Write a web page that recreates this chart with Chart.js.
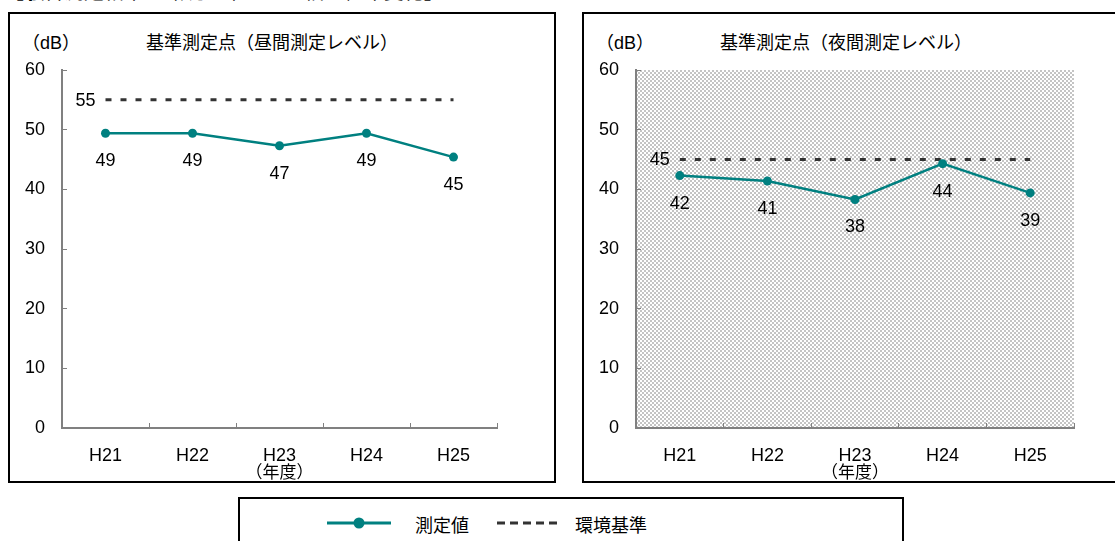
<!DOCTYPE html>
<html>
<head>
<meta charset="utf-8">
<script src="https://cdn.jsdelivr.net/npm/chart.js@4.4.1/dist/chart.umd.min.js"></script>
<style>
  body { margin: 0; width: 1115px; height: 541px; overflow: hidden; background: #fff;
         font-family: "Liberation Sans", "Noto Sans CJK JP", sans-serif; position: relative; }
  .box { position: absolute; border: 2px solid #000; box-sizing: border-box; }
  .txt { position: absolute; white-space: nowrap; color: #000; }
  canvas { position: absolute; }
  .jp { font-family: "Liberation Sans", "Noto Sans CJK JP", sans-serif; }
</style>
</head>
<body>
<div class="txt jp" style="left:4px; top:-24px; font-size:20px;">【騒音測定結果の環境基準との比較と経年変化】</div>

<div class="box" style="left:8px; top:12px; width:548px; height:471px;"></div>
<div class="box" style="left:582px; top:12px; width:545px; height:471px;"></div>

<div class="txt jp" style="left:22px; top:28px; font-size:18px;">（dB）</div>
<div class="txt jp" style="left:146px; top:28px; font-size:18px;">基準測定点（昼間測定レベル）</div>
<div class="txt jp" style="left:596px; top:28px; font-size:18px;">（dB）</div>
<div class="txt jp" style="left:720px; top:28px; font-size:18px;">基準測定点（夜間測定レベル）</div>

<canvas id="dayChart" width="540" height="470" style="left:10px; top:14px; width:540px; height:470px;"></canvas>
<canvas id="nightChart" width="520" height="470" style="left:584px; top:14px; width:520px; height:470px;"></canvas>

<div class="box" style="left:238px; top:497px; width:666px; height:60px;"></div>
<svg style="position:absolute; left:326px; top:515px;" width="66" height="16">
  <line x1="1" y1="8" x2="65" y2="8" stroke="#008080" stroke-width="3"/>
  <circle cx="33" cy="8" r="5.5" fill="#008080"/>
</svg>
<div class="txt jp" style="left:415px; top:511px; font-size:18px;">測定値</div>
<svg style="position:absolute; left:496px; top:515px;" width="66" height="16">
  <line x1="1" y1="8" x2="65" y2="8" stroke="#333" stroke-width="3" stroke-dasharray="8,5"/>
</svg>
<div class="txt jp" style="left:575px; top:511px; font-size:18px;">環境基準</div>

<script>
// 年度
const years = ['H21', 'H22', 'H23', 'H24', 'H25'];

// 昼間
const dayMeasured = [49.4, 49.4, 47.3, 49.4, 45.4];
const dayStandard = [55, 55, 55, 55, 55];

// 夜間
const nightMeasured = [42.3, 41.4, 38.3, 44.3, 39.4];
const nightStandard = [45, 45, 45, 45, 45];

const yTicks = [0, 10, 20, 30, 40, 50, 60];

const numFont = { family: '"Liberation Sans", "Noto Sans CJK JP", sans-serif', size: 18 };

// 市松模様の背景
function makeChecker() {
  const c = document.createElement('canvas');
  c.width = 4; c.height = 4;
  const g = c.getContext('2d');
  g.fillStyle = '#ffffff';
  g.fillRect(0, 0, 4, 4);
  g.fillStyle = '#c4c4c4';
  g.fillRect(0, 0, 2, 2);
  g.fillRect(2, 2, 2, 2);
  return c;
}

const bgPlugin = {
  id: 'checkerBg',
  beforeDraw(chart, args, opts) {
    if (!opts.on) return;
    const { ctx, chartArea } = chart;
    ctx.save();
    ctx.fillStyle = ctx.createPattern(makeChecker(), 'repeat');
    ctx.fillRect(chartArea.left, chartArea.top, chartArea.right - chartArea.left, chartArea.bottom - chartArea.top);
    ctx.restore();
  }
};

const labelPlugin = {
  id: 'valueLabels',
  afterDatasetsDraw(chart) {
    const ctx = chart.ctx;
    ctx.save();
    ctx.font = '18px "Liberation Sans", sans-serif';
    ctx.fillStyle = '#000';
    ctx.textBaseline = 'middle';
    // 測定値
    const m = chart.getDatasetMeta(0);
    ctx.textAlign = 'center';
    m.data.forEach((pt, i) => {
      ctx.fillText(Math.round(chart.data.datasets[0].data[i]), pt.x, pt.y + 28);
    });
    // 環境基準
    const s = chart.getDatasetMeta(1);
    ctx.textAlign = 'right';
    ctx.fillText(chart.data.datasets[1].data[0], s.data[0].x - 10, s.data[0].y + 1);
    ctx.restore();
  }
};

function makeChart(id, measured, standard, padRight, checker) {
  const ctx = document.getElementById(id).getContext('2d');
  return new Chart(ctx, {
    type: 'line',
    data: {
      labels: years,
      datasets: [{
        label: '測定値',
        data: measured,
        borderColor: '#008080',
        backgroundColor: '#008080',
        borderWidth: 2.5,
        pointRadius: 4.5,
        pointBorderWidth: 0,
        tension: 0
      }, {
        label: '環境基準',
        data: standard,
        borderColor: '#333333',
        borderWidth: 3,
        borderDash: [6, 9],
        pointRadius: 0,
        tension: 0
      }]
    },
    options: {
      responsive: false,
      animation: false,
      layout: { padding: { top: 56, right: padRight, left: 0, bottom: 0 } },
      plugins: {
        legend: { display: false },
        title: { display: false },
        tooltip: { enabled: false },
        checkerBg: { on: checker }
      },
      scales: {
        x: {
          offset: true,
          grid: { offset: true, drawOnChartArea: false, drawTicks: true, tickLength: -5, color: '#808080', lineWidth: 1 },
          border: { color: '#808080', width: 2 },
          ticks: { color: '#000', font: numFont, padding: 22 },
          title: { display: true, text: '（年度）', color: '#000', font: { family: '"Noto Sans CJK JP", sans-serif', size: 17 }, padding: { top: 0, bottom: 2 } },
          afterFit(scale) { scale.height = 56; }
        },
        y: {
          min: 0,
          max: 60,
          afterBuildTicks(scale) { scale.ticks = yTicks.map(v => ({ value: v })); },
          grid: { drawOnChartArea: false, drawTicks: true, tickLength: -5, color: '#808080', lineWidth: 1 },
          border: { color: '#808080', width: 2 },
          ticks: { color: '#000', font: numFont, padding: 22 },
          afterFit(scale) { scale.width = 52; }
        }
      }
    },
    plugins: [bgPlugin, labelPlugin]
  });
}

makeChart('dayChart', dayMeasured, dayStandard, 53, false);
makeChart('nightChart', nightMeasured, nightStandard, 30, true);
</script>
</body>
</html>
